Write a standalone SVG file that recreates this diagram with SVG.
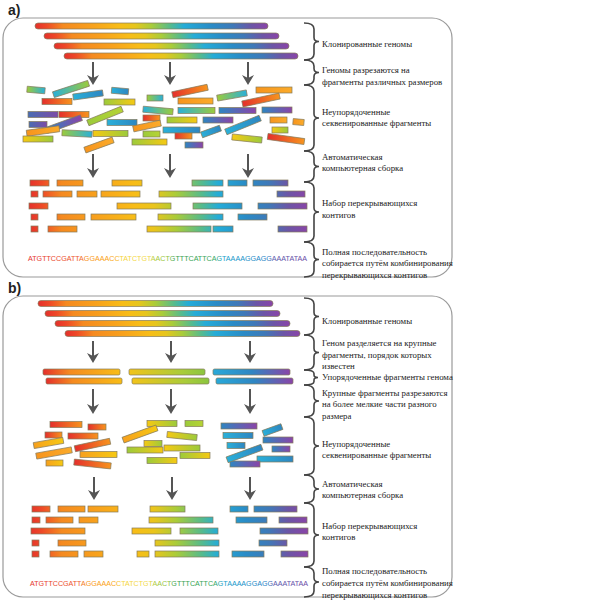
<svg xmlns="http://www.w3.org/2000/svg" width="600" height="600" viewBox="0 0 600 600">
<style>
.panel{fill:#fff;stroke:#9a9a9a;stroke-width:1.2}
.bar{stroke:#857b5c;stroke-width:0.7}
.frag{stroke:#857b5c;stroke-width:0.7}
.ctg{stroke:#857b5c;stroke-width:0.7;fill:url(#pos)}
.brace{fill:none;stroke:#444;stroke-width:1.6}
.lbl{font-family:"Liberation Serif","Times New Roman",serif;font-size:8.8px;fill:#222}
.pl{font-family:"Liberation Sans",Arial,sans-serif;font-size:14px;font-weight:bold;fill:#222}
.seq{font-family:"Liberation Sans",Arial,sans-serif;font-size:7px;fill:url(#seqg)}
.arr{stroke:#555;stroke-width:2;marker-end:url(#ah)}
</style>
<defs>
<marker id="ah" markerUnits="userSpaceOnUse" markerWidth="11" markerHeight="13" refX="6" refY="6.5" orient="auto">
<path d="M0,0.5 L10,6.5 L0,12.5 L3,6.5 Z" fill="#555"/>
</marker>
<linearGradient id="pos" gradientUnits="userSpaceOnUse" x1="28" y1="0" x2="308" y2="0">
<stop offset="0" stop-color="#e42f2c"/><stop offset="0.05" stop-color="#ee4a27"/><stop offset="0.12" stop-color="#f58a20"/><stop offset="0.25" stop-color="#f8a21c"/><stop offset="0.38" stop-color="#f8bd17"/><stop offset="0.45" stop-color="#eac51c"/><stop offset="0.53" stop-color="#a9cc3a"/><stop offset="0.62" stop-color="#56bb8c"/><stop offset="0.68" stop-color="#24acd8"/><stop offset="0.78" stop-color="#2a8bc6"/><stop offset="0.86" stop-color="#3f79b8"/><stop offset="0.93" stop-color="#6c55a6"/><stop offset="1" stop-color="#8a44a8"/>
</linearGradient>
<linearGradient id="genome" x1="0" y1="0" x2="1" y2="0">
<stop offset="0" stop-color="#e42f2c"/><stop offset="0.05" stop-color="#ee4a27"/><stop offset="0.12" stop-color="#f58a20"/><stop offset="0.25" stop-color="#f8a21c"/><stop offset="0.36" stop-color="#f8bd17"/><stop offset="0.43" stop-color="#e6c61d"/><stop offset="0.5" stop-color="#a9cc3a"/><stop offset="0.58" stop-color="#56bb8c"/><stop offset="0.64" stop-color="#24acd8"/><stop offset="0.76" stop-color="#2a8bc6"/><stop offset="0.85" stop-color="#3f79b8"/><stop offset="0.93" stop-color="#6c55a6"/><stop offset="1" stop-color="#8a44a8"/>
</linearGradient>
<linearGradient id="seqg" gradientUnits="userSpaceOnUse" x1="28" y1="0" x2="310" y2="0">
<stop offset="0" stop-color="#e2352c"/><stop offset="0.18" stop-color="#ec5a2a"/><stop offset="0.21" stop-color="#f7941d"/><stop offset="0.31" stop-color="#f9a51b"/><stop offset="0.33" stop-color="#f4d23a"/><stop offset="0.43" stop-color="#efd84a"/><stop offset="0.45" stop-color="#a8c83a"/><stop offset="0.5" stop-color="#8cc040"/><stop offset="0.52" stop-color="#3a9e48"/><stop offset="0.66" stop-color="#3aa55a"/><stop offset="0.69" stop-color="#1e9ec8"/><stop offset="0.85" stop-color="#2a7fc0"/><stop offset="0.87" stop-color="#5b5ba8"/><stop offset="1" stop-color="#6a4aa0"/>
</linearGradient>
<linearGradient id="gRO"><stop offset="0" stop-color="#e42f2c"/><stop offset="1" stop-color="#f7941d"/></linearGradient>
<linearGradient id="gO"><stop offset="0" stop-color="#f7941d"/><stop offset="1" stop-color="#fbab2a"/></linearGradient>
<linearGradient id="gOY"><stop offset="0" stop-color="#f7a01d"/><stop offset="1" stop-color="#f6c913"/></linearGradient>
<linearGradient id="gYG"><stop offset="0" stop-color="#f6c913"/><stop offset="1" stop-color="#9ccb3b"/></linearGradient>
<linearGradient id="gGY"><stop offset="0" stop-color="#9ccb3b"/><stop offset="1" stop-color="#f6c913"/></linearGradient>
<linearGradient id="gG"><stop offset="0" stop-color="#9ccb3b"/><stop offset="1" stop-color="#b6d334"/></linearGradient>
<linearGradient id="gGB"><stop offset="0" stop-color="#9ccb3b"/><stop offset="1" stop-color="#2ab0d9"/></linearGradient>
<linearGradient id="gBG"><stop offset="0" stop-color="#2ab0d9"/><stop offset="1" stop-color="#9ccb3b"/></linearGradient>
<linearGradient id="gB"><stop offset="0" stop-color="#2ab0d9"/><stop offset="1" stop-color="#2e86c1"/></linearGradient>
<linearGradient id="gBP"><stop offset="0" stop-color="#2e86c1"/><stop offset="1" stop-color="#8b44a8"/></linearGradient>
<linearGradient id="gP"><stop offset="0" stop-color="#4a6db3"/><stop offset="1" stop-color="#7d4ba5"/></linearGradient>
<linearGradient id="gL"><stop offset="0" stop-color="#e42f2c"/><stop offset="0.35" stop-color="#f58a20"/><stop offset="1" stop-color="#f8bd17"/></linearGradient>
<linearGradient id="gM"><stop offset="0" stop-color="#f2c31a"/><stop offset="0.7" stop-color="#a9cc3a"/><stop offset="1" stop-color="#8bc53f"/></linearGradient>
<linearGradient id="gR"><stop offset="0" stop-color="#29a9d9"/><stop offset="0.5" stop-color="#2f86c3"/><stop offset="1" stop-color="#8a44a8"/></linearGradient>
</defs>
<rect width="600" height="600" fill="#fff"/>

<g id="panel-a">
<text class="pl" x="8" y="15">a)</text>
<rect class="panel" x="3" y="18" width="449" height="259" rx="20"/>
</g>
<g id="panel-b">
<text class="pl" x="8" y="293">b)</text>
<rect class="panel" x="3" y="296" width="449" height="301" rx="20"/>
</g>

<g id="a-genomes" fill="url(#genome)" class="bar">
<rect x="35" y="23" width="233" height="6" rx="3"/>
<rect x="44" y="33" width="235" height="6" rx="3"/>
<rect x="54" y="43" width="235" height="6" rx="3"/>
<rect x="64" y="53" width="234" height="6" rx="3"/>
</g>

<g id="a-fragments" class="frag">
<rect x="27" y="87" width="18" height="6" fill="url(#gGB)" transform="rotate(5,36,90)"/>
<rect x="52.5" y="86" width="37" height="6" fill="url(#gBG)" transform="rotate(-18,71,89)"/>
<rect x="42" y="98.5" width="30" height="6" fill="url(#gRO)"/>
<rect x="73" y="92" width="30" height="6" fill="url(#gB)" transform="rotate(-8,88,95)"/>
<rect x="111.5" y="88" width="17" height="6" fill="url(#gB)" transform="rotate(5,120,91)"/>
<rect x="104" y="99" width="31" height="6" fill="url(#gGY)"/>
<rect x="28" y="111.5" width="30" height="6" fill="url(#gP)"/>
<rect x="59" y="111.5" width="30" height="6" fill="url(#gRO)"/>
<rect x="86.5" y="113" width="37" height="6" fill="url(#gG)" transform="rotate(-22,105,116)"/>
<rect x="29" y="121.5" width="18" height="6" fill="url(#gP)"/>
<rect x="107" y="119.5" width="30" height="6" fill="url(#gB)"/>
<rect x="45.5" y="121" width="37" height="6" fill="url(#gBP)" transform="rotate(-20,64,124)"/>
<rect x="26.5" y="128" width="33" height="6" fill="url(#gO)" transform="rotate(-8,43,131)"/>
<rect x="62" y="130.5" width="30" height="6" fill="url(#gGB)" transform="rotate(3,77,133.5)"/>
<rect x="93" y="130.5" width="35" height="6" fill="url(#gYG)"/>
<rect x="23" y="136" width="30" height="6" fill="url(#gYG)"/>
<rect x="84" y="142" width="30" height="6" fill="url(#gO)" transform="rotate(-20,99,145)"/>
<rect x="132" y="139" width="35" height="6" fill="url(#gGY)"/>
<rect x="147" y="95" width="16" height="6" fill="url(#gGB)"/>
<rect x="172" y="88" width="36" height="6" fill="url(#gRO)" transform="rotate(-12,190,91)"/>
<rect x="178" y="98" width="35" height="6" fill="url(#gO)"/>
<rect x="217" y="92.5" width="30" height="6" fill="url(#gGB)" transform="rotate(-10,232,95.5)"/>
<rect x="256" y="87" width="36" height="6" fill="url(#gO)"/>
<rect x="242" y="97" width="38" height="6" fill="url(#gRO)" transform="rotate(-12,261,100)"/>
<rect x="143" y="107.5" width="30" height="6" fill="url(#gBG)" transform="rotate(5,158,110.5)"/>
<rect x="178" y="107.5" width="37" height="6" fill="url(#gBG)"/>
<rect x="219" y="107.5" width="37" height="6" fill="url(#gBP)"/>
<rect x="262" y="107" width="30" height="6" fill="url(#gBP)"/>
<rect x="143" y="115" width="17" height="6" fill="url(#gRO)"/>
<rect x="167" y="117" width="30" height="6" fill="url(#gGY)"/>
<rect x="203" y="117" width="30" height="6" fill="url(#gBP)"/>
<rect x="133" y="123" width="28" height="6" fill="url(#gO)" transform="rotate(-12,147,126)"/>
<rect x="270" y="117" width="17" height="6" fill="url(#gO)"/>
<rect x="293" y="119" width="11" height="6" fill="url(#gO)" transform="rotate(5,298,122)"/>
<rect x="163" y="127" width="37" height="6" fill="url(#gB)"/>
<rect x="201" y="128.5" width="20" height="6" fill="url(#gB)" transform="rotate(-20,211,131.5)"/>
<rect x="224.5" y="122" width="37" height="6" fill="url(#gB)" transform="rotate(-22,243,125)"/>
<rect x="272" y="127" width="16" height="6" fill="url(#gYG)"/>
<rect x="143" y="131" width="17" height="6" fill="url(#gG)"/>
<rect x="175" y="133" width="17" height="6" fill="url(#gRO)"/>
<rect x="185" y="142" width="18" height="6" fill="url(#gBP)"/>
<rect x="232" y="135.5" width="30" height="6" fill="url(#gYG)" transform="rotate(6,247,138.5)"/>
<rect x="267.5" y="136" width="37" height="6" fill="url(#gRO)" transform="rotate(8,286,139)"/>
</g>

<g id="a-contigs" class="ctg">
<rect x="30" y="180" width="19" height="6"/><rect x="57" y="180" width="26" height="6"/><rect x="112" y="180" width="30" height="6"/><rect x="192" y="180" width="31" height="6"/><rect x="228" y="180" width="19" height="6"/><rect x="253" y="180" width="35" height="6"/>
<rect x="31" y="191" width="7" height="6"/><rect x="43" y="191" width="29" height="6"/><rect x="77" y="191" width="20" height="6"/><rect x="101" y="191" width="39" height="6"/><rect x="159" y="191" width="64" height="6"/><rect x="277" y="191" width="28" height="6"/>
<rect x="29" y="203" width="19" height="6"/><rect x="117" y="203" width="54" height="6"/><rect x="193" y="203" width="49" height="6"/><rect x="258" y="203" width="49" height="6"/>
<rect x="31" y="214" width="7" height="6"/><rect x="57" y="214" width="28" height="6"/><rect x="91" y="214" width="45" height="6"/><rect x="158" y="214" width="65" height="6"/><rect x="238" y="214" width="29" height="6"/>
<rect x="31" y="226" width="7" height="6"/><rect x="48" y="226" width="29" height="6"/><rect x="147" y="226" width="64" height="6"/><rect x="213" y="226" width="20" height="6"/><rect x="278" y="226" width="29" height="6"/>
</g>
<text id="a-seq" class="seq" x="28" y="261" textLength="279" lengthAdjust="spacingAndGlyphs">ATGTTCCGATTAGGAAACCTATCTGTAACTGTTTCATTCAGTAAAAGGAGGAAATATAA</text>

<g id="b-genomes" fill="url(#genome)" class="bar">
<rect x="38" y="300.5" width="235" height="6" rx="3"/>
<rect x="45" y="310.5" width="235" height="6" rx="3"/>
<rect x="55" y="320.5" width="235" height="6" rx="3"/>
<rect x="65" y="330.5" width="235" height="6" rx="3"/>
</g>

<g id="b-ordered" class="bar">
<rect x="43" y="369" width="77" height="6" rx="1.5" fill="url(#gL)"/>
<rect x="129" y="369" width="76" height="6" rx="1.5" fill="url(#gM)"/>
<rect x="213" y="369" width="77" height="6" rx="1.5" fill="url(#gR)"/>
<rect x="46" y="378" width="76" height="6" rx="1.5" fill="url(#gL)"/>
<rect x="132" y="378" width="77" height="6" rx="1.5" fill="url(#gM)"/>
<rect x="216" y="378" width="77" height="6" rx="1.5" fill="url(#gR)"/>
</g>

<g id="b-fragments" class="frag">
<rect x="50" y="421.5" width="32" height="6" fill="url(#gRO)"/>
<rect x="88" y="424" width="18" height="6" fill="url(#gRO)"/>
<rect x="45" y="432" width="17" height="6" fill="url(#gRO)"/>
<rect x="68" y="433" width="30" height="6" fill="url(#gRO)"/>
<rect x="33.5" y="440" width="30" height="6" fill="url(#gOY)" transform="rotate(-10,48.5,443)"/>
<rect x="74.5" y="442" width="36" height="6" fill="url(#gRO)" transform="rotate(-12,92.5,445)"/>
<rect x="36" y="450" width="36" height="6" fill="url(#gO)" transform="rotate(-10,54,453)"/>
<rect x="80" y="451.5" width="37" height="6" fill="url(#gOY)"/>
<rect x="46" y="460" width="17" height="6" fill="url(#gOY)"/>
<rect x="74" y="461" width="37" height="6" fill="url(#gRO)" transform="rotate(6,92.5,464)"/>
<rect x="147" y="420.5" width="30" height="6" fill="url(#gYG)"/>
<rect x="185" y="420.5" width="18" height="6" fill="url(#gG)"/>
<rect x="122" y="431" width="36" height="6" fill="url(#gOY)" transform="rotate(-20,140,434)"/>
<rect x="167" y="433" width="30" height="6" fill="url(#gYG)" transform="rotate(6,182,436)"/>
<rect x="144" y="440.5" width="18" height="6" fill="url(#gYG)"/>
<rect x="127" y="447" width="36" height="6" fill="url(#gGY)"/>
<rect x="164" y="445" width="36" height="6" fill="url(#gYG)"/>
<rect x="180" y="452.5" width="30" height="6" fill="url(#gGY)"/>
<rect x="147" y="457.5" width="30" height="6" fill="url(#gGY)"/>
<rect x="221" y="423" width="36" height="6" fill="url(#gBP)"/>
<rect x="262.5" y="427" width="20" height="6" fill="url(#gB)" transform="rotate(-20,272.5,430)"/>
<rect x="223" y="432.5" width="30" height="6" fill="url(#gB)"/>
<rect x="263" y="437" width="30" height="6" fill="url(#gBP)"/>
<rect x="227" y="442.5" width="18" height="6" fill="url(#gB)"/>
<rect x="272" y="446" width="18" height="6" fill="url(#gBP)"/>
<rect x="257" y="456" width="36" height="6" fill="url(#gB)"/>
<rect x="230" y="461" width="30" height="6" fill="url(#gBP)"/>
<rect x="226" y="450.5" width="37" height="6" fill="url(#gB)" transform="rotate(-20,244.5,453.5)"/>
</g>

<g id="b-contigs" class="ctg">
<rect x="32" y="506" width="18" height="6"/><rect x="58" y="506" width="27" height="6"/><rect x="88" y="506" width="30" height="6"/><rect x="150" y="506" width="35" height="6"/><rect x="230" y="506" width="18" height="6"/><rect x="254" y="506" width="43" height="6"/>
<rect x="32" y="517" width="8" height="6"/><rect x="46" y="517" width="27" height="6"/><rect x="79" y="517" width="19" height="6"/><rect x="149" y="517" width="64" height="6"/><rect x="236" y="517" width="31" height="6"/><rect x="279" y="517" width="28" height="6"/>
<rect x="31" y="528" width="54" height="6"/><rect x="132" y="528" width="39" height="6"/><rect x="180" y="528" width="38" height="6"/><rect x="260" y="528" width="48" height="6"/>
<rect x="32" y="540" width="7" height="6"/><rect x="58" y="540" width="28" height="6"/><rect x="155" y="540" width="64" height="6"/><rect x="259" y="540" width="28" height="6"/>
<rect x="32" y="551" width="7" height="6"/><rect x="50" y="551" width="28" height="6"/><rect x="84" y="551" width="19" height="6"/><rect x="137" y="551" width="12" height="6"/><rect x="155" y="551" width="64" height="6"/><rect x="232" y="551" width="32" height="6"/><rect x="281" y="551" width="27" height="6"/>
</g>
<text id="b-seq" class="seq" x="30" y="586" textLength="278" lengthAdjust="spacingAndGlyphs">ATGTTCCGATTAGGAAACCTATCTGTAACTGTTTCATTCAGTAAAAGGAGGAAATATAA</text>

<g id="connectors" class="arr">
<line x1="93" y1="62" x2="93" y2="81"/><line x1="170" y1="62" x2="170" y2="81"/><line x1="248" y1="62" x2="248" y2="81"/>
<line x1="93" y1="154" x2="93" y2="174"/><line x1="170" y1="154" x2="170" y2="174"/><line x1="248" y1="154" x2="248" y2="174"/>
<line x1="93" y1="341" x2="93" y2="359"/><line x1="171" y1="341" x2="171" y2="359"/><line x1="250" y1="341" x2="250" y2="359"/>
<line x1="93" y1="389" x2="93" y2="410"/><line x1="171" y1="389" x2="171" y2="410"/><line x1="250" y1="389" x2="250" y2="410"/>
<line x1="94" y1="477" x2="94" y2="496"/><line x1="172" y1="477" x2="172" y2="496"/><line x1="250" y1="477" x2="250" y2="496"/>
</g>

<g id="a-label-1"><path class="brace" d="M304,23 Q314,23 314,29 L314,37.5 Q314,41.5 319,41.5 Q314,41.5 314,45.5 L314,54 Q314,60 304,60"/><text class="lbl" x="322" y="47">Клонированные геномы</text></g>
<g id="a-label-2"><path class="brace" d="M304,60 Q314,60 314,66 L314,68.5 Q314,72.5 319,72.5 Q314,72.5 314,76.5 L314,79 Q314,85 304,85"/><text class="lbl" x="322" y="73">Геномы разрезаются на</text><text class="lbl" x="322" y="85">фрагменты различных размеров</text></g>
<g id="a-label-3"><path class="brace" d="M304,85 Q314,85 314,91 L314,114 Q314,118 319,118 Q314,118 314,122 L314,145 Q314,151 304,151"/><text class="lbl" x="322" y="115">Неупорядоченные</text><text class="lbl" x="322" y="126">секвенированные фрагменты</text></g>
<g id="a-label-4"><path class="brace" d="M304,151 Q314,151 314,157 L314,162.5 Q314,166.5 319,166.5 Q314,166.5 314,170.5 L314,176 Q314,182 304,182"/><text class="lbl" x="322" y="160">Автоматическая</text><text class="lbl" x="322" y="171">компьютерная сборка</text></g>
<g id="a-label-5"><path class="brace" d="M304,182 Q314,182 314,188 L314,208 Q314,212 319,212 Q314,212 314,216 L314,236 Q314,242 304,242"/><text class="lbl" x="322" y="206">Набор перекрывающихся</text><text class="lbl" x="322" y="218">контигов</text></g>
<g id="a-label-6"><path class="brace" d="M304,242 Q314,242 314,248 L314,255.5 Q314,259.5 319,259.5 Q314,259.5 314,263.5 L314,271 Q314,277 304,277"/><text class="lbl" x="322" y="255">Полная последовательность</text><text class="lbl" x="322" y="266">собирается путём комбинирования</text><text class="lbl" x="322" y="278">перекрывающихся контигов</text></g>

<g id="b-label-1"><path class="brace" d="M304,298 Q314,298 314,304 L314,312.5 Q314,316.5 319,316.5 Q314,316.5 314,320.5 L314,329 Q314,335 304,335"/><text class="lbl" x="322" y="324">Клонированные геномы</text></g>
<g id="b-label-2"><path class="brace" d="M304,335 Q314,335 314,341 L314,348.5 Q314,352.5 319,352.5 Q314,352.5 314,356.5 L314,364 Q314,370 304,370"/><text class="lbl" x="322" y="346">Геном разделяется на крупные</text><text class="lbl" x="322" y="358">фрагменты, порядок которых</text><text class="lbl" x="322" y="369">известен</text></g>
<g id="b-label-3"><path class="brace" d="M304,370 Q314,370 314,373.5 L314,375 Q314,377.5 318,377.5 Q314,377.5 314,380 L314,381.5 Q314,385 304,385"/><text class="lbl" x="322" y="380">Упорядоченные фрагменты генома</text></g>
<g id="b-label-4"><path class="brace" d="M304,385 Q314,385 314,391 L314,397 Q314,401 319,401 Q314,401 314,405 L314,411 Q314,417 304,417"/><text class="lbl" x="322" y="396">Крупные фрагменты разрезаются</text><text class="lbl" x="322" y="407">на более мелкие части разного</text><text class="lbl" x="322" y="419">размера</text></g>
<g id="b-label-5"><path class="brace" d="M304,417 Q314,417 314,423 L314,442 Q314,446 319,446 Q314,446 314,450 L314,469 Q314,475 304,475"/><text class="lbl" x="322" y="447">Неупорядоченные</text><text class="lbl" x="322" y="458">секвенированные фрагменты</text></g>
<g id="b-label-6"><path class="brace" d="M304,475 Q314,475 314,481 L314,485 Q314,489 319,489 Q314,489 314,493 L314,497 Q314,503 304,503"/><text class="lbl" x="322" y="487">Автоматическая</text><text class="lbl" x="322" y="498">компьютерная сборка</text></g>
<g id="b-label-7"><path class="brace" d="M304,503 Q314,503 314,509 L314,531 Q314,535 319,535 Q314,535 314,539 L314,561 Q314,567 304,567"/><text class="lbl" x="322" y="529">Набор перекрывающихся</text><text class="lbl" x="322" y="540">контигов</text></g>
<g id="b-label-8"><path class="brace" d="M304,567 Q314,567 314,573 L314,578 Q314,582 319,582 Q314,582 314,586 L314,591 Q314,597 304,597"/><text class="lbl" x="322" y="574">Полная последовательность</text><text class="lbl" x="322" y="586">собирается путём комбинирования</text><text class="lbl" x="322" y="598">перекрывающихся контигов</text></g>
</svg>
